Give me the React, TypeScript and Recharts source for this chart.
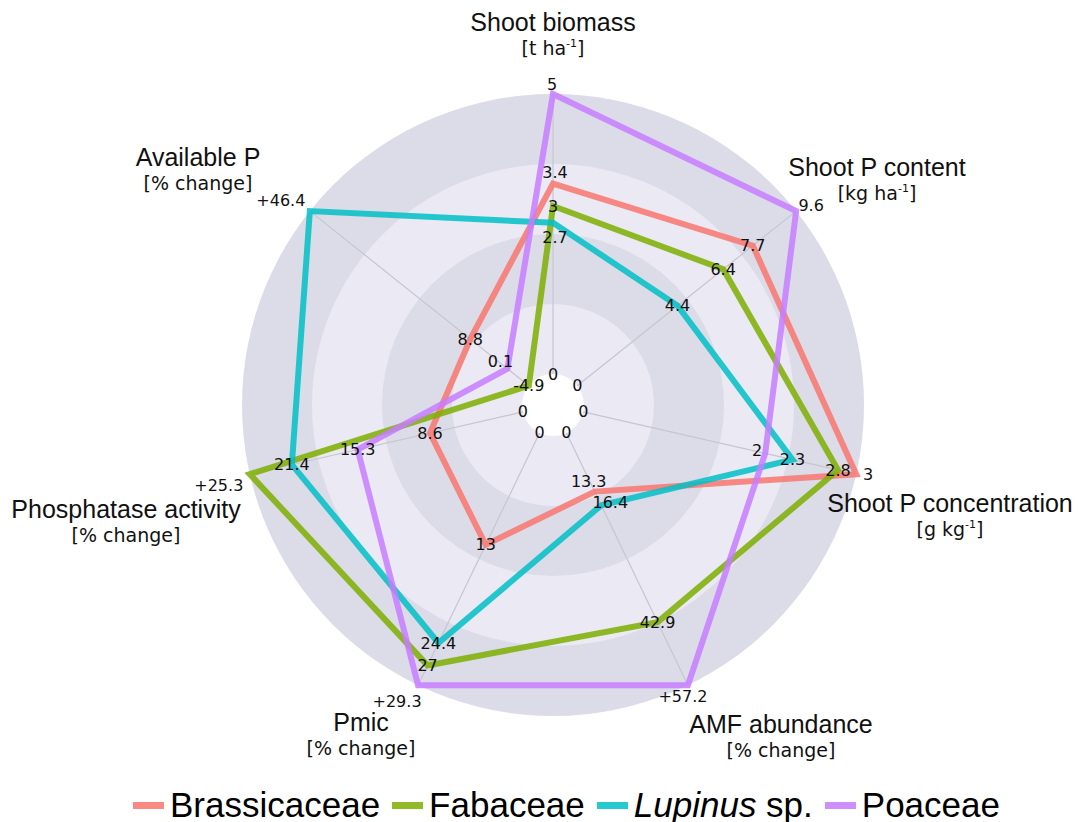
import React from "react";
import { RadarChart, Radar, PolarGrid, PolarAngleAxis, PolarRadiusAxis, Legend } from "recharts";

const axisNames = [
  "Shoot biomass",
  "Shoot P content",
  "Shoot P concentration",
  "AMF abundance",
  "Pmic",
  "Phosphatase activity",
  "Available P",
];
const axisUnits = ["t ha", "kg ha", "g kg", "% change", "% change", "% change", "% change"];
const unitSup = ["-1", "-1", "-1", "", "", "", ""];

const brassicaceae = [3.4, 7.7, 3, 13.3, 13, 8.6, 8.8];
const fabaceae = [3, 6.4, 2.8, 42.9, 27, 25.3, -4.9];
const lupinus = [2.7, 4.4, 2.3, 16.4, 24.4, 21.4, 46.4];
const poaceae = [5, 9.6, 2, 57.2, 29.3, 15.3, 0.1];

const seriesNames = ["Brassicaceae", "Fabaceae", "Lupinus sp.", "Poaceae"];
const seriesColors = ["#F8766D", "#7CAE00", "#00BFC4", "#C77CFF"];
const seriesValues = [brassicaceae, fabaceae, lupinus, poaceae];

// each axis has its own scale: min (or 0) at the hole, max at the rim
const axisMin = axisNames.map((_, i) => Math.min(0, ...seriesValues.map((s) => s[i])));
const axisMax = axisNames.map((_, i) => Math.max(...seriesValues.map((s) => s[i])));

const rows = axisNames.map((name, i) => {
  const row: Record<string, number | string> = { axis: name, lo: 0, hi: 1 };
  seriesValues.forEach((vals, s) => {
    row[`s${s}`] = (vals[i] - axisMin[i]) / (axisMax[i] - axisMin[i]);
  });
  return row;
});

// layout
const W = 1079;
const H = 822;
const CX = 553;
const CY = 405;
const R_IN = 31;
const R_OUT = 311;
const TITLE_FONT = "'Liberation Sans', Arial, sans-serif";
const LABEL_FONT = "'DejaVu Sans', sans-serif";

const titleOffset = [
  [0, -383],
  [324, -238],
  [397, 98],
  [228, 319],
  [-192, 317],
  [-427, 104],
  [-355, -248],
];
const maxOffset = [
  [-1, -10],
  [15, -6],
  [12, 0],
  [-5, 11],
  [-21, 16],
  [-31, 11],
  [-29, -11],
];
// small nudges so crowded value labels don't sit on top of each other ("series-axis")
const labelNudge: Record<string, [number, number]> = {
  "0-0": [2, -11],
  "2-0": [2, 15],
  "0-3": [-6, -10],
  "2-3": [9, -3],
  "3-6": [-7, -7],
  "3-2": [-8, -3],
};

const Backdrop = () => (
  <svg width={W} height={H} style={{ position: "absolute", left: 0, top: 0 }}>
    <circle cx={CX} cy={CY} r={R_OUT} fill="#dcdbe8" />
    <circle cx={CX} cy={CY} r={241} fill="#ebe9f3" />
    <circle cx={CX} cy={CY} r={171} fill="#dcdbe8" />
    <circle cx={CX} cy={CY} r={101} fill="#ebe9f3" />
    <circle cx={CX} cy={CY} r={R_IN} fill="#ffffff" />
  </svg>
);

const AxisTitle = (props: any) => {
  const i = typeof props.index === "number" ? props.index : axisNames.indexOf(props.payload?.value);
  if (i < 0) return <g />;
  const x = CX + titleOffset[i][0];
  const y = CY + titleOffset[i][1];
  return (
    <g>
      <text x={x} y={y + 9} textAnchor="middle" fontFamily={TITLE_FONT} fontSize={25} fill="#111">
        {axisNames[i]}
      </text>
      <text x={x} y={y + 33} textAnchor="middle" fontFamily={LABEL_FONT} fontSize={19} fill="#111">
        [{axisUnits[i]}
        {unitSup[i] ? (
          <>
            <tspan dy={-8} fontSize={11}>{unitSup[i]}</tspan>
            <tspan dy={8}>]</tspan>
          </>
        ) : (
          "]"
        )}
      </text>
    </g>
  );
};

const valueLabel = (s: number) => (p: any) => {
  const i = p.index;
  const v = seriesValues[s][i];
  if (v === axisMax[i] || v === axisMin[i]) return <g key={`v${s}-${i}`} />;
  const [dx, dy] = labelNudge[`${s}-${i}`] || [0, 0];
  return (
    <text key={`v${s}-${i}`} x={p.cx + dx} y={p.cy + dy} textAnchor="middle" dominantBaseline="central"
      fontFamily={LABEL_FONT} fontSize={16} fill="#111">
      {String(v)}
    </text>
  );
};

const minLabel = (p: any) => (
  <text key={`min-${p.index}`} x={p.cx} y={p.cy} textAnchor="middle" dominantBaseline="central"
    fontFamily={LABEL_FONT} fontSize={16} fill="#111">
    {String(axisMin[p.index])}
  </text>
);

const maxLabel = (p: any) => {
  const i = p.index;
  const prefix = axisUnits[i] === "% change" ? "+" : "";
  return (
    <text key={`max-${i}`} x={p.cx + maxOffset[i][0]} y={p.cy + maxOffset[i][1]} textAnchor="middle"
      dominantBaseline="central" fontFamily={LABEL_FONT} fontSize={16} fill="#111">
      {prefix + String(axisMax[i])}
    </text>
  );
};

const renderLegend = () => (
  <div style={{ display: "flex", alignItems: "center", fontFamily: TITLE_FONT, fontSize: 35, color: "#000", lineHeight: "40px" }}>
    {seriesNames.map((n, s) => (
      <div key={n} style={{ display: "flex", alignItems: "center", marginRight: 12 }}>
        <span style={{ display: "inline-block", width: 31, height: 7, background: seriesColors[s], opacity: 0.85, marginRight: 6 }} />
        {n.endsWith(" sp.") ? (
          <span>
            <i>{n.replace(" sp.", "")}</i> sp.
          </span>
        ) : (
          <span>{n}</span>
        )}
      </div>
    ))}
  </div>
);

export default function App() {
  return (
    <div style={{ position: "absolute", left: 0, top: 0, width: W, height: H, background: "#fff" }}>
      <Backdrop />
      <div style={{ position: "absolute", left: 0, top: 0 }}>
        <RadarChart width={W} height={H} data={rows} cx={CX} cy={CY} innerRadius={R_IN} outerRadius={R_OUT}
          margin={{ top: 0, right: 0, bottom: 0, left: 0 }}>
          <PolarGrid gridType="circle" polarRadius={[0]} stroke="#c6c6cf" strokeWidth={1.2} />
          <PolarAngleAxis dataKey="axis" tick={AxisTitle} tickLine={false} axisLine={false} />
          <PolarRadiusAxis domain={[0, 1]} type="number" tick={false} axisLine={false} tickLine={false} />
          {seriesNames.map((n, s) => (
            <Radar key={n} name={n} dataKey={`s${s}`} stroke={seriesColors[s]} strokeWidth={6}
              strokeOpacity={0.85} fill="none" fillOpacity={0} dot={false} isAnimationActive={false} />
          ))}
          {seriesNames.map((n, s) => (
            <Radar key={`lbl-${n}`} dataKey={`s${s}`} stroke="none" fill="none" legendType="none"
              dot={valueLabel(s)} isAnimationActive={false} />
          ))}
          <Radar dataKey="lo" stroke="none" fill="none" legendType="none" dot={minLabel} isAnimationActive={false} />
          <Radar dataKey="hi" stroke="none" fill="none" legendType="none" dot={maxLabel} isAnimationActive={false} />
          <Legend content={renderLegend}
            wrapperStyle={{ position: "absolute", left: 133, top: 785, bottom: "auto", width: 940 }} />
        </RadarChart>
      </div>
    </div>
  );
}
